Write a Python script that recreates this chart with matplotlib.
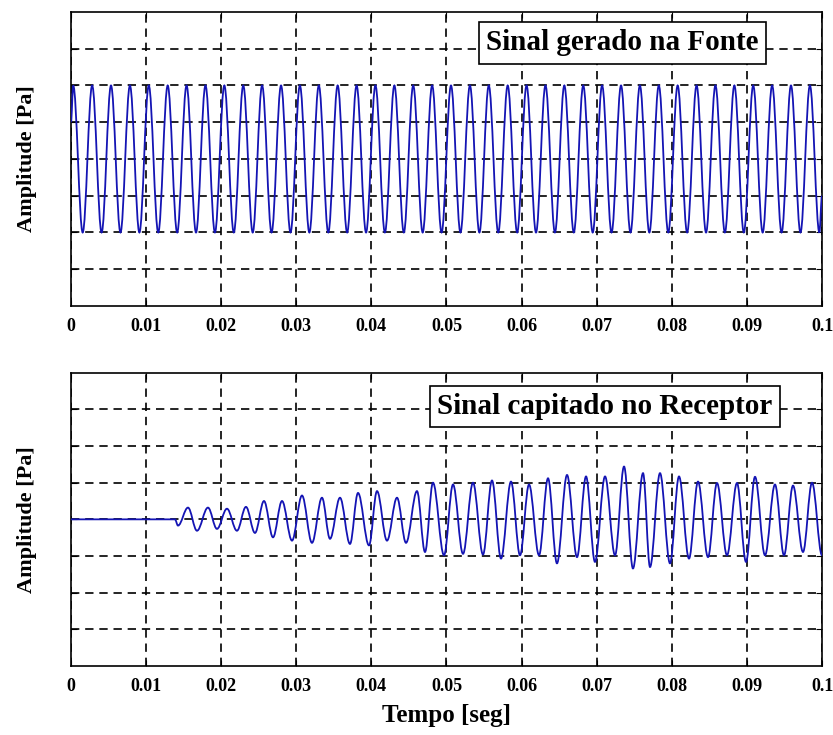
import numpy as np
import matplotlib
matplotlib.use("Agg")
import matplotlib.pyplot as plt
from matplotlib.path import Path
from matplotlib.patches import PathPatch

# --- dane (ekstrema sygnalow) ---
# sygnal w zrodle: staly sinus, szczyty +2 / doliny -2
fonte_t = [0.0, 0.00030, 0.00156, 0.00282, 0.00408, 0.00533, 0.00659, 0.00785, 0.00911,
           0.01036, 0.01162, 0.01288, 0.01414, 0.01539, 0.01665, 0.01791, 0.01917,
           0.02042, 0.02168, 0.02294, 0.02420, 0.02545, 0.02671, 0.02797, 0.02923,
           0.03048, 0.03174, 0.03300, 0.03426, 0.03551, 0.03677, 0.03803, 0.03929,
           0.04054, 0.04180, 0.04306, 0.04432, 0.04557, 0.04683, 0.04809, 0.04935,
           0.05060, 0.05186, 0.05312, 0.05438, 0.05563, 0.05689, 0.05815, 0.05941,
           0.06066, 0.06192, 0.06318, 0.06444, 0.06569, 0.06695, 0.06821, 0.06947,
           0.07072, 0.07198, 0.07324, 0.07450, 0.07575, 0.07701, 0.07827, 0.07953,
           0.08078, 0.08204, 0.08330, 0.08456, 0.08581, 0.08707, 0.08833, 0.08959,
           0.09084, 0.09210, 0.09336, 0.09462, 0.09587, 0.09713, 0.09839, 0.09965, 0.1]
fonte_v = [1.0] + [2.0, -2.0] * 40 + [-1.0]

# sygnal w odbiorniku: cisza, potem rosnaca amplituda
rec_t = [0.0, 0.01385, 0.01425, 0.01558, 0.01678, 0.01824, 0.01944, 0.02077, 0.02210,
         0.02330, 0.02450, 0.02570, 0.02690, 0.02810, 0.02943, 0.03076, 0.03209,
         0.03342, 0.03449, 0.03582, 0.03715, 0.03822, 0.03968, 0.04075, 0.04208,
         0.04341, 0.04461, 0.04607, 0.04714, 0.04820, 0.04967, 0.05087, 0.05220,
         0.05353, 0.05486, 0.05606, 0.05726, 0.05859, 0.05979, 0.06099, 0.06232,
         0.06352, 0.06471, 0.06605, 0.06738, 0.06858, 0.06977, 0.07111, 0.07244,
         0.07364, 0.07483, 0.07617, 0.07710, 0.07843, 0.07976, 0.08096, 0.08229,
         0.08349, 0.08482, 0.08602, 0.08735, 0.08868, 0.08988, 0.09108, 0.09241,
         0.09374, 0.09494, 0.09614, 0.09747, 0.09867, 0.1]
rec_v = [0.0, 0.0, -0.17, 0.32, -0.31, 0.32, -0.26, 0.29, -0.31,
         0.34, -0.37, 0.50, -0.49, 0.50, -0.58, 0.65, -0.64,
         0.59, -0.53, 0.59, -0.67, 0.72, -0.71, 0.77, -0.58,
         0.59, -0.64, 0.77, -0.89, 1.00, -0.98, 0.95, -0.94,
         1.00, -0.96, 1.06, -1.07, 1.03, -0.98, 0.95, -0.98,
         1.12, -1.20, 1.21, -1.03, 1.17, -1.16, 1.17, -0.98,
         1.44, -1.34, 1.26, -1.30, 1.26, -1.20, 1.17, -1.07,
         1.03, -1.03, 0.99, -0.98, 0.99, -1.16, 1.16, -0.98,
         0.95, -0.98, 0.92, -0.89, 1.00, -0.98]

x_ticks = [0, 0.01, 0.02, 0.03, 0.04, 0.05, 0.06, 0.07, 0.08, 0.09, 0.1]
x_labels = ["0", "0.01", "0.02", "0.03", "0.04", "0.05", "0.06", "0.07", "0.08", "0.09", "0.1"]
y_ticks = [-3, -2, -1, 0, 1, 2, 3]

plt.rcParams['font.family'] = ['Liberation Serif', 'DejaVu Serif']
plt.rcParams['font.weight'] = 'bold'

fig = plt.figure(figsize=(8.33, 7.35), dpi=100)
ax1 = fig.add_axes([0.0852, 0.5837, 0.9016, 0.400])
ax2 = fig.add_axes([0.0852, 0.0939, 0.9016, 0.399])


def sinusoida(ax, t, v):
    # krzywe Beziera miedzy kolejnymi ekstremami -> ksztalt zblizony do sinusa
    verts = [(t[0], v[0])]
    codes = [Path.MOVETO]
    for i in range(1, len(t)):
        h = 0.364 * (t[i] - t[i - 1])
        verts += [(t[i - 1] + h, v[i - 1]), (t[i] - h, v[i]), (t[i], v[i])]
        codes += [Path.CURVE4] * 3
    ax.add_patch(PathPatch(Path(verts, codes), fill=False, edgecolor='#1414b4',
                           linewidth=1.3, zorder=3))


def styl(ax, t, v, tytul, tx, ty):
    sinusoida(ax, t, v)
    ax.set_xlim(0, 0.1)
    ax.set_ylim(-4, 4)
    ax.set_xticks(x_ticks)
    ax.set_xticklabels(x_labels, fontsize=13, fontweight='bold')
    ax.set_yticks(y_ticks)
    ax.set_yticklabels([])
    ax.tick_params(direction='in', length=4, top=True, right=True, pad=9)
    ax.grid(True, color='black', linestyle=(0, (5, 3.5)), linewidth=1.2)
    for s in ax.spines.values():
        s.set_linewidth(1.2)
    ax.set_ylabel("Amplitude [Pa]", fontsize=16, fontweight='bold')
    ax.yaxis.set_label_coords(-0.045, 0.5)
    ax.text(tx, ty, tytul, transform=ax.transAxes, fontsize=21, fontweight='bold',
            ha='center', va='center',
            bbox=dict(boxstyle='square,pad=0.25', facecolor='white', edgecolor='black', linewidth=1.2))

styl(ax1, fonte_t, fonte_v, "Sinal gerado na Fonte", 0.734, 0.895)
styl(ax2, rec_t, rec_v, "Sinal capitado no Receptor", 0.711, 0.885)
ax2.set_xlabel("Tempo [seg]", fontsize=18, fontweight='bold', va='top')
ax2.xaxis.set_label_coords(0.5, -0.13)

fig.savefig("out.png", dpi=100)
